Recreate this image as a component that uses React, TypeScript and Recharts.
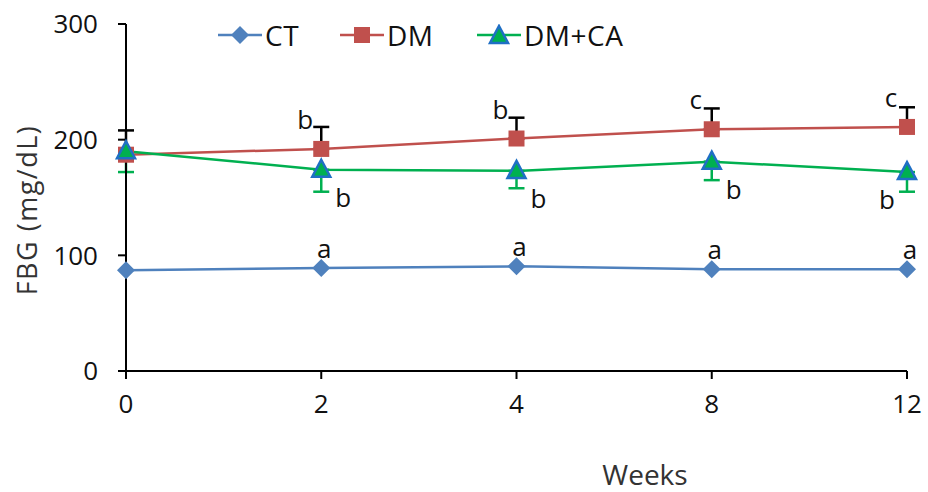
import { LineChart, Line, XAxis, YAxis, ErrorBar, LabelList } from "recharts";

const weeks = ["0", "2", "4", "8", "12"];
const ctValues = [87, 89, 90.5, 88, 88];
const dmValues = [187, 192, 201, 209, 211];
const dmErrors = [21, 19, 18, 18, 17];
const dmcaValues = [190, 174, 173, 181, 172];
const dmcaErrors = [18, 19, 15, 16, 17];
const ctLetters = ["", "a", "a", "a", "a"];
const dmLetters = ["", "b", "b", "c", "c"];
const dmcaLetters = ["", "b", "b", "b", "b"];
const yTicks = [0, 100, 200, 300];

const data = weeks.map((w, i) => ({
  week: w,
  ct: ctValues[i],
  dm: dmValues[i],
  dmErr: [0, dmErrors[i]],
  dmca: dmcaValues[i],
  dmcaErr: [dmcaErrors[i], 0],
}));

const BLUE = "#4F81BD";
const RED = "#C0504D";
const GREEN = "#00B050";
const TRI_EDGE = "#1F6FC5";
const FONT = "'Open Sans', sans-serif";

const Diamond = ({ cx, cy }: any) => (
  <polygon points={`${cx},${cy - 9} ${cx + 9},${cy} ${cx},${cy + 9} ${cx - 9},${cy}`} fill={BLUE} />
);
const Square = ({ cx, cy }: any) => <rect x={cx - 8} y={cy - 8} width={16} height={16} fill={RED} />;
const Triangle = ({ cx, cy }: any) => (
  <polygon
    points={`${cx},${cy - 10} ${cx + 9},${cy + 7} ${cx - 9},${cy + 7}`}
    fill={GREEN}
    stroke={TRI_EDGE}
    strokeWidth={2.5}
    strokeLinejoin="miter"
  />
);

const letter = (letters: string[], dx: number, dy: number, lastDx?: number) => (props: any) => {
  const { x, y, index } = props;
  const t = letters[index];
  if (!t) return null;
  const useDx = index === letters.length - 1 && lastDx !== undefined ? lastDx : dx;
  return (
    <text x={x + useDx} y={y + dy} textAnchor="middle" dominantBaseline="central" fontSize={26} fontFamily={FONT} fill="#111">
      {t}
    </text>
  );
};

const legendItems = [
  { name: "CT", color: BLUE, shape: "diamond", left: 218 },
  { name: "DM", color: RED, shape: "square", left: 340 },
  { name: "DM+CA", color: GREEN, shape: "triangle", left: 477 },
];

const LegendBox = () => (
  <>
    {legendItems.map((it) => (
      <div
        key={it.name}
        style={{
          position: "absolute",
          left: it.left,
          top: 19,
          display: "flex",
          alignItems: "center",
          gap: 3,
          fontFamily: FONT,
          fontSize: 28,
          letterSpacing: 0.5,
          color: "#111",
          lineHeight: "32px",
        }}
      >
        <svg width={44} height={22}>
          <line x1={0} y1={11} x2={44} y2={11} stroke={it.color} strokeWidth={2.5} />
          {it.shape === "diamond" && <Diamond cx={22} cy={11} />}
          {it.shape === "square" && <Square cx={22} cy={11} />}
          {it.shape === "triangle" && <Triangle cx={22} cy={12} />}
        </svg>
        <span>{it.name}</span>
      </div>
    ))}
  </>
);

export default function App() {
  return (
    <div style={{ position: "absolute", left: 0, top: 0, width: 928, height: 492, background: "#fff" }}>
      <LineChart width={928} height={492} data={data} margin={{ top: 24, right: 21, bottom: 11, left: 0 }}>
        <XAxis
          dataKey="week"
          stroke="#000"
          strokeWidth={2}
          tickSize={8}
          tickMargin={16}
          height={110}
          tick={{ fill: "#111", fontSize: 26, fontFamily: FONT }}
          label={{
            content: ({ viewBox }: any) => (
              <text x={viewBox.x + 519} y={viewBox.y + 114} textAnchor="middle" fontSize={28} fontFamily={FONT} fill="#333">
                Weeks
              </text>
            ),
          }}
        />
        <YAxis
          domain={[0, 300]}
          ticks={yTicks}
          stroke="#000"
          strokeWidth={2}
          tickSize={8}
          tickMargin={20}
          width={126}
          tick={{ fill: "#111", fontSize: 26, fontFamily: FONT }}
          label={{
            content: ({ viewBox }: any) => {
              const cx = viewBox.x + 26;
              const cy = viewBox.y + 186;
              return (
                <text x={cx} y={cy} transform={`rotate(-90 ${cx} ${cy})`} textAnchor="middle" dominantBaseline="central" fontSize={27} letterSpacing={1.5} fontFamily={FONT} fill="#333">
                  FBG (mg/dL)
                </text>
              );
            },
          }}
        />
        <Line dataKey="dm" stroke="none" dot={false} legendType="none" isAnimationActive={false}>
          <ErrorBar dataKey="dmErr" direction="y" width={8} stroke="#000" strokeWidth={2.5} />
        </Line>
        <Line dataKey="dmca" stroke="none" dot={false} legendType="none" isAnimationActive={false}>
          <ErrorBar dataKey="dmcaErr" direction="y" width={8} stroke={GREEN} strokeWidth={2.5} />
        </Line>
        <Line dataKey="ct" stroke={BLUE} strokeWidth={2.5} dot={<Diamond />} isAnimationActive={false}>
          <LabelList dataKey="ct" content={letter(ctLetters, 3, -20)} />
        </Line>
        <Line dataKey="dm" stroke={RED} strokeWidth={2.5} dot={<Square />} isAnimationActive={false}>
          <LabelList dataKey="dm" content={letter(dmLetters, -16, -30)} />
        </Line>
        <Line dataKey="dmca" stroke={GREEN} strokeWidth={2.5} dot={<Triangle />} isAnimationActive={false}>
          <LabelList dataKey="dmca" content={letter(dmcaLetters, 22, 27, -20)} />
        </Line>
      </LineChart>
      <LegendBox />
    </div>
  );
}
